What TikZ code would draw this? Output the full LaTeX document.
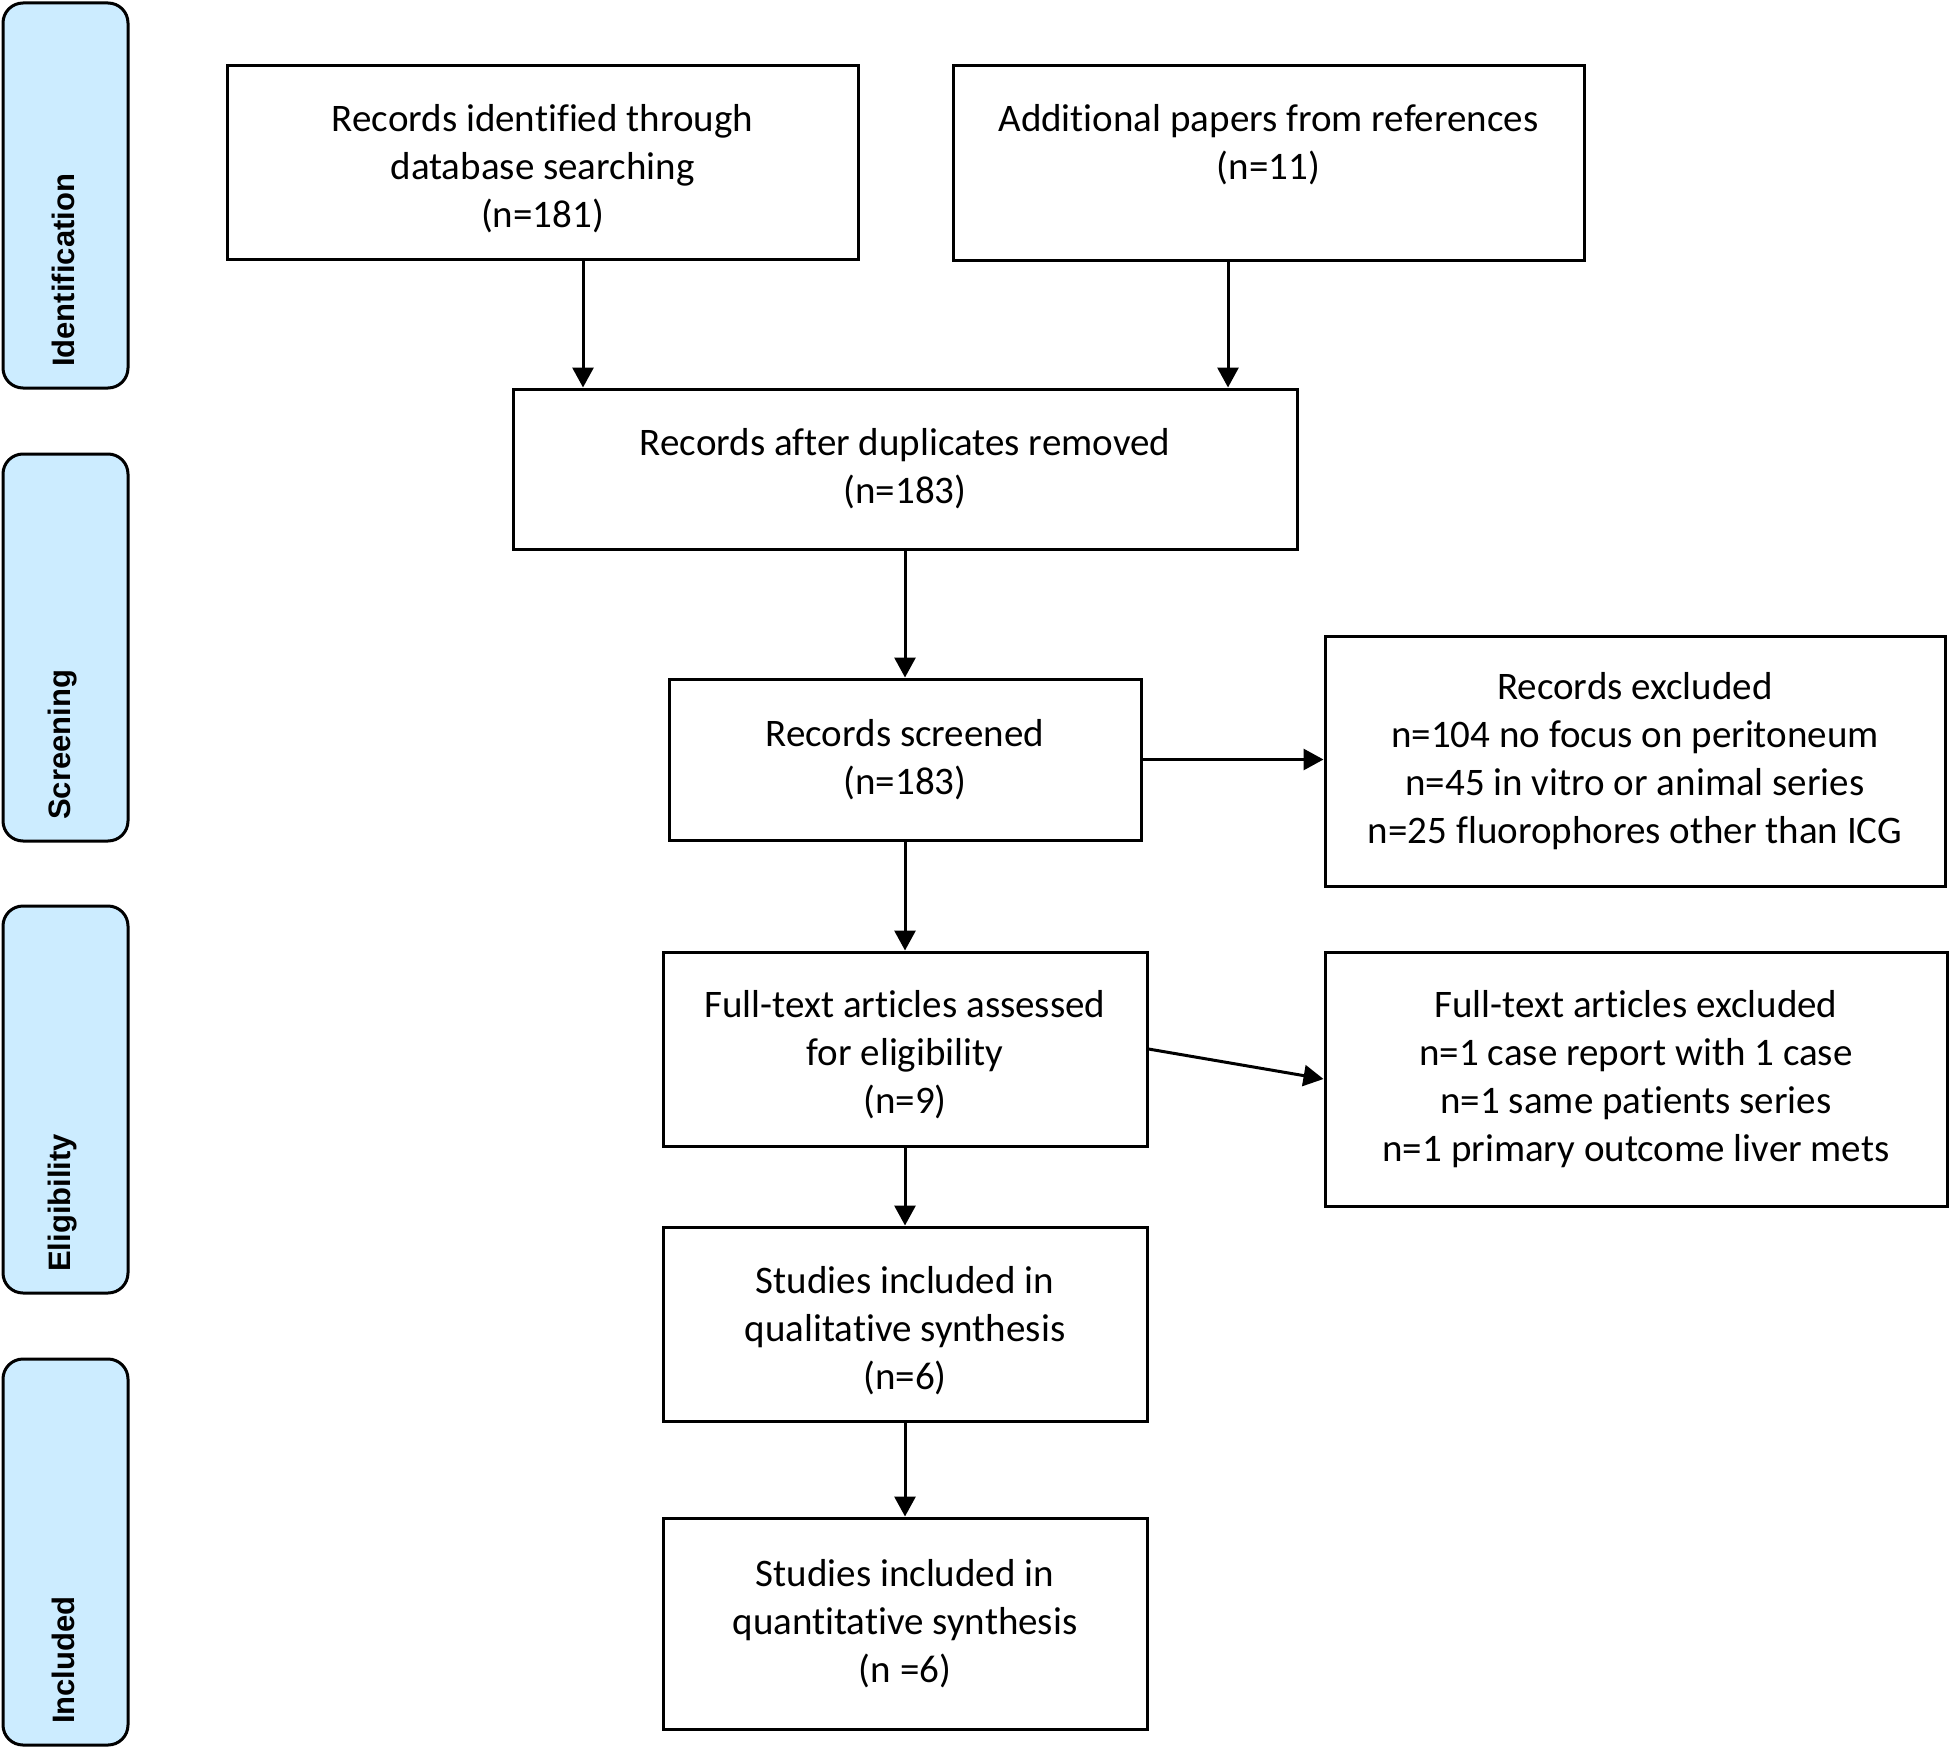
\documentclass[tikz,border=0pt]{standalone}
\usepackage{fontspec}
\setmainfont{Carlito}[Ligatures=NoCommon]
\newfontfamily\sidefont{Liberation Sans}
\usetikzlibrary{arrows.meta}
\definecolor{sideblue}{RGB}{204,236,255}
\begin{document}
\begin{tikzpicture}[x=1pt,y=-1pt,
  box/.style={draw=black, line width=3pt, fill=white, align=center, inner sep=0pt, font=\fontsize{39}{48}\selectfont},
  plain/.style={align=center, inner sep=0pt, font=\fontsize{39}{48}\selectfont},
  phase/.style={draw=black, line width=3pt, fill=sideblue, rounded corners=20pt, minimum width=125pt},
  phasetext/.style={rotate=90, anchor=west, inner sep=0pt, font=\sidefont\bfseries\fontsize{31}{36}\selectfont},
  arr/.style={line width=3pt, -{Triangle[length=20pt,width=21pt]}}]
\useasboundingbox (0,0) rectangle (1949,1747);

% phase bars
\node[phase, minimum height=385pt] (pid) at (65.5,195.5) {};
\node[phase, minimum height=387pt] (pscr) at (65.5,647.5) {};
\node[phase, minimum height=387pt] (pel) at (65.5,1099.5) {};
\node[phase, minimum height=386pt] (pinc) at (65.5,1552) {};
\node[phasetext] (tid) at (63,367) {Identification};
\node[phasetext] (tscr) at (63,820) {Screening};
\node[phasetext] (tel) at (63,1272) {Eligibility};
\node[phasetext] (tinc) at (63,1724) {Included};

% boxes
\node[box, minimum width=631pt, minimum height=193pt] (rec) at (542.5,162.5) {};
\node[plain] (rectxt) at (542.5,168.5) {Records identified through\\database searching\\(n=181)};
\node[box, minimum width=631pt, minimum height=194pt] (add) at (1268.5,163) {};
\node[plain] (addtxt) at (1268.5,144.5) {Additional papers from references\\(n=11)};
\node[box, minimum width=784pt, minimum height=160pt] (dup) at (905,469)
  {Records after duplicates removed\\(n=183)};
\node[box, minimum width=472pt, minimum height=161pt] (scr) at (905,759.5)
  {Records screened\\(n=183)};
\node[box, minimum width=620pt, minimum height=250pt] (exc1) at (1635,761)
  {Records excluded\\n=104 no focus on peritoneum\\n=45 in vitro or animal series\\n=25 fluorophores other than ICG};
\node[box, minimum width=484pt, minimum height=194pt] (ft) at (905,1049) {};
\node[plain] (fttxt) at (905,1055) {Full-text articles assessed\\for eligibility\\(n=9)};
\node[box, minimum width=622pt, minimum height=254pt] (exc2) at (1636,1079)
  {Full-text articles excluded\\n=1 case report with 1 case\\n=1 same patients series\\n=1 primary outcome liver mets};
\node[box, minimum width=484pt, minimum height=194pt] (qual) at (905,1324) {};
\node[plain] (qualtxt) at (905,1331) {Studies included in\\qualitative synthesis\\(n=6)};
\node[box, minimum width=484pt, minimum height=211pt] (quant) at (905,1623.5)
  {Studies included in\\quantitative synthesis\\(n =6)};

% connectors
\draw[arr] ([xshift=40.5pt]rec.south) -- ([xshift=40.5pt]rec.south |- dup.north);
\draw[arr] ([xshift=-40.5pt]add.south) -- ([xshift=-40.5pt]add.south |- dup.north);
\draw[arr] (dup.south) -- (scr.north);
\draw[arr] (scr.east) -- (scr.east -| exc1.west);
\draw[arr] (scr.south) -- (ft.north);
\draw[arr] (ft.east) -- (exc2.west);
\draw[arr] (ft.south) -- (qual.north);
\draw[arr] (qual.south) -- (quant.north);
\end{tikzpicture}
\end{document}
